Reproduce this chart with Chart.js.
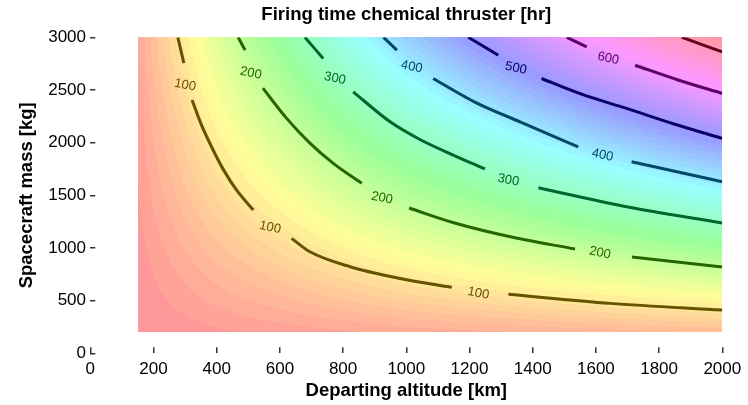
<!DOCTYPE html>
<html><head><meta charset="utf-8">
<script src="https://cdn.jsdelivr.net/npm/chart.js@4.4.0/dist/chart.umd.min.js"></script>
<style>html,body{margin:0;padding:0;background:#fff}#wrap{width:748px;height:405px}</style>
</head><body><div id="wrap"><canvas id="c" width="748" height="405"></canvas></div>
<script>
// ---- data ----
const altitudes = [150, 200, 300, 400, 500, 600, 700, 800, 900, 1000, 1200, 1400, 1600, 1800, 2000];
const masses = [200, 500, 1000, 1500, 2000, 2500, 3000];
// firing time [hr], one row per mass, one column per altitude
const time200  = [2, 4, 7, 11, 14, 17, 20, 23, 26, 29, 33, 37, 41, 45, 49];
const time500  = [4, 9, 19, 28, 36, 43, 51, 58, 65, 72, 83, 94, 104, 113, 122];
const time1000 = [8, 18, 37, 55, 71, 86, 101, 116, 130, 143, 166, 187, 207, 226, 244];
const time1500 = [12, 27, 56, 83, 107, 129, 152, 174, 195, 215, 249, 281, 311, 339, 366];
const time2000 = [16, 36, 74, 110, 142, 172, 202, 232, 260, 286, 332, 374, 414, 452, 488];
const time2500 = [20, 45, 93, 138, 178, 215, 253, 290, 325, 358, 415, 468, 518, 565, 610];
const time3000 = [24, 54, 111, 165, 213, 258, 303, 348, 390, 429, 498, 561, 621, 678, 732];
const firingTime = [time200, time500, time1000, time1500, time2000, time2500, time3000];

const levels = [100, 200, 300, 400, 500, 600, 700];
// contour lines [altitude, mass]; null = gap where the label sits
const contour100 = [[277,3000],[296,2754],null,[322,2404],[350,2180],[389,1928],[422,1739],[463,1549],[516,1360],null,[637,1091],[695,964],[822,822],[980,711],[1144,626],null,[1323,560],[1645,474],[2000,411]];
const contour200 = [[468,3000],[490,2878],null,[546,2517],[620,2235],[695,1995],[768,1805],[859,1613],null,[1009,1379],[1150,1240],[1344,1097],[1534,990],null,[1714,914],[2000,819]];
const contour300 = [[679,3000],[737,2799],null,[832,2482],[950,2195],[1043,2030],[1150,1880],[1249,1750],null,[1418,1571],[1697,1391],[2000,1238]];
const contour400 = [[928,3000],[970,2878],null,[1085,2609],[1220,2380],[1360,2197],[1544,1960],null,[1713,1818],[2000,1628]];
const contour500 = [[1196,3000],[1291,2830],null,[1428,2609],[1550,2465],[1697,2325],[1850,2175],[2000,2040]];
const contour600 = [[1508,3000],[1571,2909],null,[1724,2735],[1860,2595],[2000,2467]];
const contour700 = [[1872,3000],[1940,2925],[2000,2861]];
const contours = [contour100, contour200, contour300, contour400, contour500, contour600, contour700];
// contour label positions [altitude, mass]
const labels100 = [[300,2546],[569,1195],[1228,569]];
const labels200 = [[508,2659],[923,1474],[1613,952]];
const labels300 = [[774,2609],[1323,1644]];
const labels400 = [[1017,2719],[1621,1881]];
const labels500 = [[1347,2707]];
const labels600 = [[1639,2799]];
const labels700 = [];
const contourLabels = [labels100, labels200, labels300, labels400, labels500, labels600, labels700];

const xTicks = [0, 200, 400, 600, 800, 1000, 1200, 1400, 1600, 1800, 2000];
const yTicks = [0, 500, 1000, 1500, 2000, 2500, 3000];

// ---- helpers ----
const allVals = firingTime.flat();
const vmin = Math.min(...allVals), vmax = Math.max(...allVals);
function hsv(h, s, v) {
  const i = Math.floor(h * 6) % 6, f = h * 6 - Math.floor(h * 6);
  const p = v * (1 - s), q = v * (1 - f * s), t = v * (1 - (1 - f) * s);
  const r = [[v,t,p],[q,v,p],[p,v,t],[p,q,v],[t,p,v],[v,p,q]][i];
  return r.map(c => Math.round(c * 255));
}
const NCOL = 64;
function fillColor(val) {
  let k = Math.floor((val - vmin) / (vmax - vmin) * NCOL);
  k = Math.max(0, Math.min(NCOL - 1, k));
  return hsv(k / NCOL, 1, 1).map(c => Math.round(255 - 0.4 * (255 - c)));
}
function lineColor(level) {
  const c = hsv(((level - vmin) / (vmax - vmin)) % 1, 1, 0.4);
  return `rgb(${c[0]},${c[1]},${c[2]})`;
}
function locate(arr, v) {
  let i = 0;
  while (i < arr.length - 2 && v > arr[i + 1]) i++;
  const t = (v - arr[i]) / (arr[i + 1] - arr[i]);
  return [i, Math.max(0, Math.min(1, t))];
}
function sample(a, m) {
  const [i, tx] = locate(altitudes, a);
  const [j, ty] = locate(masses, m);
  const r0 = firingTime[j], r1 = firingTime[j + 1];
  return (r0[i] * (1 - tx) + r0[i + 1] * tx) * (1 - ty) + (r1[i] * (1 - tx) + r1[i + 1] * tx) * ty;
}

const heatmap = {
  id: 'heatmap',
  afterLayout(chart) {
    // centre the title over the plot area, as in the reference
    if (chart.titleBlock) {
      chart.titleBlock.left = chart.chartArea.left;
      chart.titleBlock.right = chart.chartArea.right;
    }
  },
  beforeDatasetsDraw(chart) {
    const xs = chart.scales.x, ys = chart.scales.y;
    const px0 = Math.round(xs.getPixelForValue(altitudes[0]));
    const px1 = Math.round(xs.getPixelForValue(altitudes[altitudes.length - 1]));
    const py0 = Math.round(ys.getPixelForValue(masses[masses.length - 1]));
    const py1 = Math.round(ys.getPixelForValue(masses[0]));
    const w = px1 - px0, h = py1 - py0;
    const off = document.createElement('canvas'); off.width = w; off.height = h;
    const octx = off.getContext('2d');
    const img = octx.createImageData(w, h);
    for (let j = 0; j < h; j++) {
      const m = ys.getValueForPixel(py0 + j + 0.5);
      for (let i = 0; i < w; i++) {
        const a = xs.getValueForPixel(px0 + i + 0.5);
        const c = fillColor(sample(a, m));
        const o = (j * w + i) * 4;
        img.data[o] = c[0]; img.data[o + 1] = c[1]; img.data[o + 2] = c[2]; img.data[o + 3] = 255;
      }
    }
    octx.putImageData(img, 0, 0);
    chart.ctx.drawImage(off, px0, py0);
  },
  afterDatasetsDraw(chart) {
    const xs = chart.scales.x, ys = chart.scales.y, ctx = chart.ctx;
    ctx.save();
    ctx.font = '13px "Liberation Sans", Arial, sans-serif';
    ctx.textAlign = 'center'; ctx.textBaseline = 'middle';
    contourLabels.forEach((arr, k) => {
      ctx.fillStyle = lineColor(levels[k]);
      arr.forEach(p => {
        ctx.save();
        ctx.translate(xs.getPixelForValue(p[0]), ys.getPixelForValue(p[1]));
        ctx.rotate(0.2);
        ctx.fillText(String(levels[k]), 0, 0);
        ctx.restore();
      });
    });
    ctx.restore();
  }
};

const datasets = contours.map((arr, k) => {
  let prevX = 0;
  const data = arr.map(p => {
    if (p) { prevX = p[0]; return {x: p[0], y: p[1]}; }
    return {x: prevX, y: null};
  });
  return {
    label: String(levels[k]), data,
    borderColor: lineColor(levels[k]), borderWidth: 3,
    pointRadius: 0, spanGaps: false, fill: false,
    cubicInterpolationMode: 'monotone', borderCapStyle: 'butt'
  };
});

const tickFont = {family: '"Liberation Sans", Arial, sans-serif', size: 17};
const titleFont = {family: '"Liberation Sans", Arial, sans-serif', size: 18.5, weight: 'bold'};

new Chart(document.getElementById('c'), {
  type: 'line',
  data: {datasets},
  plugins: [heatmap],
  options: {
    responsive: false, animation: false,
    layout: {padding: {left: 0, right: 25.7, top: 0, bottom: 0}},
    plugins: {
      legend: {display: false}, tooltip: {enabled: false},
      title: {display: true, text: 'Firing time chemical thruster [hr]', color: '#000', font: titleFont, padding: {top: 3.9, bottom: 11.2}}
    },
    scales: {
      x: {
        type: 'linear', min: 0, max: 2000,
        afterBuildTicks: s => { s.ticks = xTicks.map(v => ({value: v})); },
        afterFit: s => { s.height = 51.7; s.paddingLeft = 0; s.paddingRight = 0; },
        ticks: {color: '#000', font: tickFont, padding: 11.5, autoSkip: false, maxRotation: 0, callback: v => String(v)},
        grid: {drawOnChartArea: false, drawTicks: true, tickLength: -6, color: '#333', lineWidth: 1.5},
        border: {display: false},
        title: {display: true, text: 'Departing altitude [km]', color: '#000', font: titleFont, padding: {top: 0, bottom: 2.9}}
      },
      y: {
        type: 'linear', min: 0, max: 3000,
        afterBuildTicks: s => { s.ticks = yTicks.map(v => ({value: v})); },
        afterFit: s => { s.width = 90.3; s.paddingTop = 0; s.paddingBottom = 0; },
        ticks: {color: '#000', font: tickFont, padding: 9.3, autoSkip: false, callback: v => String(v)},
        grid: {drawOnChartArea: false, drawTicks: true, tickLength: -5, color: '#333', lineWidth: 1.5},
        border: {display: false},
        title: {display: true, text: 'Spacecraft mass [kg]', color: '#000', font: titleFont, padding: {top: 15.9, bottom: 0}}
      }
    }
  }
});
</script></body></html>
